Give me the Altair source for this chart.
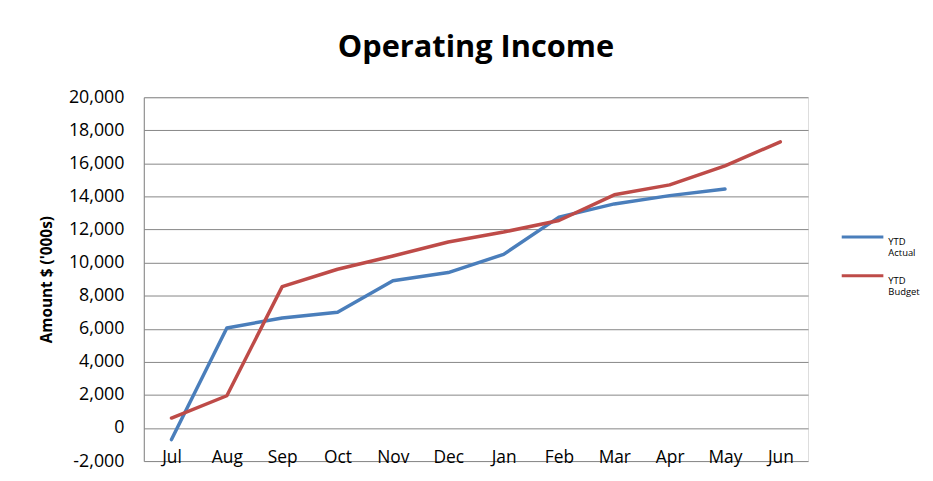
import altair as alt
import pandas as pd

months = ["Jul", "Aug", "Sep", "Oct", "Nov", "Dec", "Jan", "Feb", "Mar", "Apr", "May", "Jun"]
ytd_actual = [-700, 6050, 6650, 7000, 8900, 9400, 10500, 12750, 13550, 14050, 14450]
ytd_budget = [600, 1950, 8550, 9600, 10400, 11250, 11850, 12550, 14100, 14700, 15850, 17300]
series_names = ["YTD Actual", "YTD Budget"]
series_colors = ["#4A7EBB", "#BE4B48"]

rows = []
for m, v in zip(months, ytd_actual):
    rows.append({"Month": m, "Series": series_names[0], "Value": v})
for m, v in zip(months, ytd_budget):
    rows.append({"Month": m, "Series": series_names[1], "Value": v})
df = pd.DataFrame(rows)

FONT = "Open Sans"

chart = alt.Chart(df).mark_line(strokeWidth=3.5, strokeCap="round", strokeJoin="round").encode(
    x=alt.X("Month:N", sort=months, scale=alt.Scale(padding=0.5),
            axis=alt.Axis(title=None, domain=False, ticks=False, grid=False, labelAngle=0,
                          offset=-33, labelPadding=29, labelFontSize=17.5, labelFont=FONT,
                          labelColor="#000000", labelBaseline="middle")),
    y=alt.Y("Value:Q", scale=alt.Scale(domain=[-2000, 20000], nice=False),
            axis=alt.Axis(title="Amount $ ('000s)", values=list(range(-2000, 20001, 2000)),
                          format=",d", labelExpr="replace(datum.label, '\u2212', '-')",
                          ticks=False, labelPadding=20, labelFontSize=18,
                          labelFont=FONT, labelColor="#000000", titleFont=FONT,
                          titleFontSize=15.5, titleFontWeight="bold", titleColor="#000000",
                          titlePadding=14, domainColor="#868686", domainWidth=1,
                          gridColor="#868686", gridWidth=1)),
    color=alt.Color("Series:N", scale=alt.Scale(domain=series_names, range=series_colors),
                    legend=alt.Legend(title=None, orient="none", legendX=713, legendY=129,
                                      symbolType="M-2,0L2,0", symbolSize=441, symbolStrokeWidth=3,
                                      labelFont=FONT, labelFontSize=9.5, labelColor="#000000",
                                      labelExpr="split(datum.label, ' ')", labelBaseline="top",
                                      rowPadding=6, labelOffset=14, padding=0)),
).properties(
    width=670, height=367,
    title=alt.TitleParams("Operating Income", font=FONT, fontSize=31, fontWeight="bold",
                          color="#000000", anchor="middle", offset=25),
    autosize=alt.AutoSizeParams(type="none"),
    padding={"left": 137, "top": 88, "right": 118, "bottom": 10},
).configure_view(stroke=None).configure(background="#ffffff")

chart.save("out.html", embed_options={"renderer": "svg", "actions": False})
